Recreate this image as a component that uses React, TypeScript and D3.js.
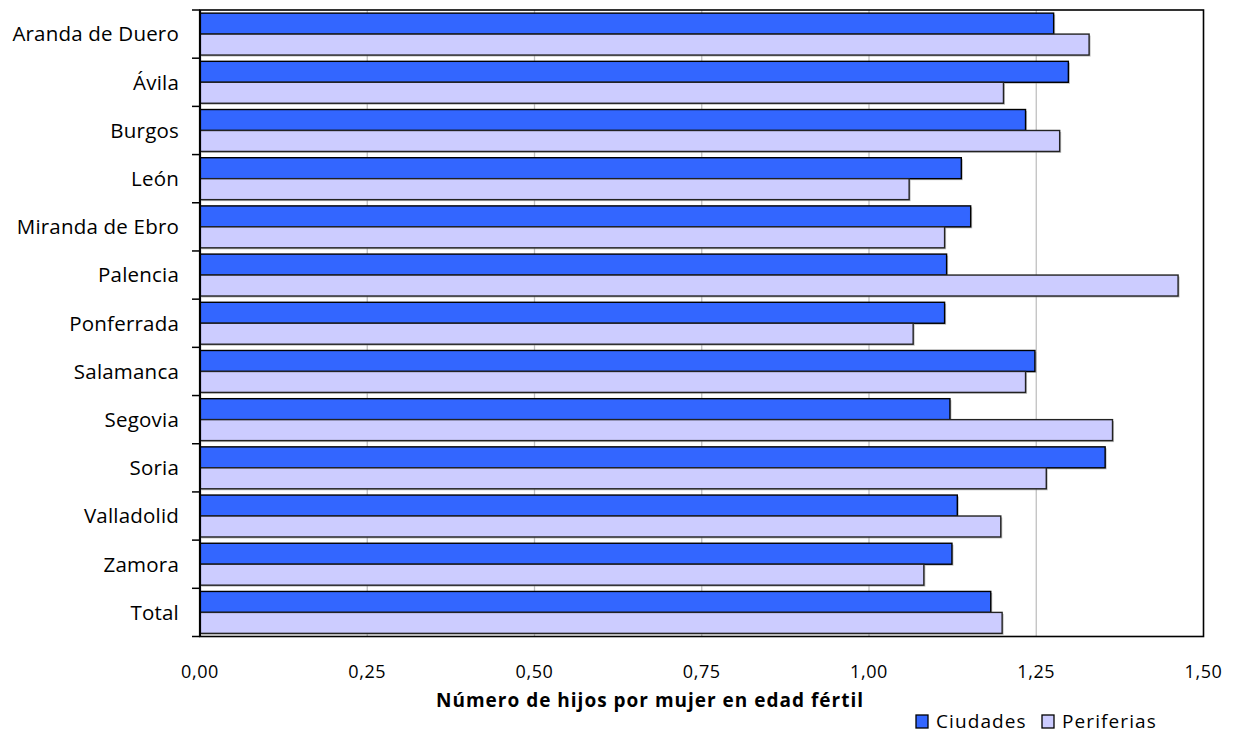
import React from "react";
import * as d3 from "d3";

const categories = [
  "Aranda de Duero", "Ávila", "Burgos", "León", "Miranda de Ebro", "Palencia",
  "Ponferrada", "Salamanca", "Segovia", "Soria", "Valladolid", "Zamora", "Total",
];
const ciudades = [1.276, 1.298, 1.234, 1.138, 1.152, 1.116, 1.113, 1.248, 1.121, 1.353, 1.132, 1.124, 1.182];
const periferias = [1.329, 1.201, 1.285, 1.060, 1.113, 1.462, 1.066, 1.234, 1.364, 1.265, 1.197, 1.082, 1.199];
const xTicks = [0, 0.25, 0.5, 0.75, 1, 1.25, 1.5];
const seriesNames = ["Ciudades", "Periferias"];
const seriesColors = ["#3366FF", "#CCCCFF"];

const W = 1236, H = 738;
const L = 200, R = 1203.5, T = 10, B = 636.5;
const FONT = "'Open Sans', sans-serif";

export default function App() {
  const x = d3.scaleLinear().domain([0, 1.5]).range([L, R]);
  const y = d3.scaleBand().domain(categories).range([T, B]).paddingInner(0.13).paddingOuter(0.065);
  const step = y.step();
  const bw = y.bandwidth() / 2;
  const fmt = (v: number) => d3.format(".2f")(v).replace(".", ",");
  const series = [ciudades, periferias];
  const legendX = [916, 1042];

  return (
    <svg width={W} height={H} style={{ position: "absolute", left: 0, top: 0, background: "#fff" }}>
      {/* gridlines */}
      {xTicks.filter((t) => t > 0 && t < 1.5).map((t) => (
        <line key={"g" + t} x1={x(t)} x2={x(t)} y1={T} y2={B} stroke="#c0c0c0" strokeWidth={1.3} />
      ))}
      {/* bars */}
      {categories.map((c, i) =>
        series.map((s, k) => (
          <g key={c + k}>
            <rect x={x(0) + 1.5} y={y(c)! + k * bw + 1.5} width={x(s[i]) - x(0)} height={bw}
              fill="#808080" opacity={0.5} />
            <rect x={x(0)} y={y(c)! + k * bw} width={x(s[i]) - x(0)} height={bw}
              fill={seriesColors[k]} stroke={k === 0 ? "#000" : "#222"} strokeWidth={1.4} />
          </g>
        ))
      )}
      {/* plot border */}
      <rect x={L} y={T} width={R - L} height={B - T} fill="none" stroke="#000" strokeWidth={1.6} />
      <line x1={L} x2={L} y1={T} y2={B} stroke="#000" strokeWidth={2.2} />
      {/* y ticks */}
      {d3.range(categories.length + 1).map((i) => (
        <line key={"yt" + i} x1={L - 8} x2={L} y1={T + i * step} y2={T + i * step} stroke="#000" strokeWidth={1.5} />
      ))}
      {/* category labels */}
      {categories.map((c) => (
        <text key={"l" + c} x={179} y={y(c)! + y.bandwidth() / 2} dy="0.36em" textAnchor="end"
          fontFamily={FONT} fontSize={20.5} letterSpacing={0.2} fill="#000">{c}</text>
      ))}
      {/* x tick labels */}
      {xTicks.map((t) => (
        <text key={"xl" + t} x={x(t)} y={678} textAnchor="middle" fontFamily={FONT} fontSize={18} letterSpacing={0.6} fill="#000">
          {fmt(t)}
        </text>
      ))}
      <text x={650} y={707} textAnchor="middle" fontFamily={FONT} fontSize={19} fontWeight="bold" letterSpacing={1.0} fill="#000">
        Número de hijos por mujer en edad fértil
      </text>
      {/* legend */}
      {seriesNames.map((n, k) => {
        const lx = legendX[k];
        return (
          <g key={"lg" + n}>
            <rect x={lx} y={715} width={12} height={13} fill={seriesColors[k]} stroke="#000" strokeWidth={1.3} />
            <text x={lx + 20} y={728} fontFamily={FONT} fontSize={19} letterSpacing={1.1} fill="#000">{n}</text>
          </g>
        );
      })}
    </svg>
  );
}
